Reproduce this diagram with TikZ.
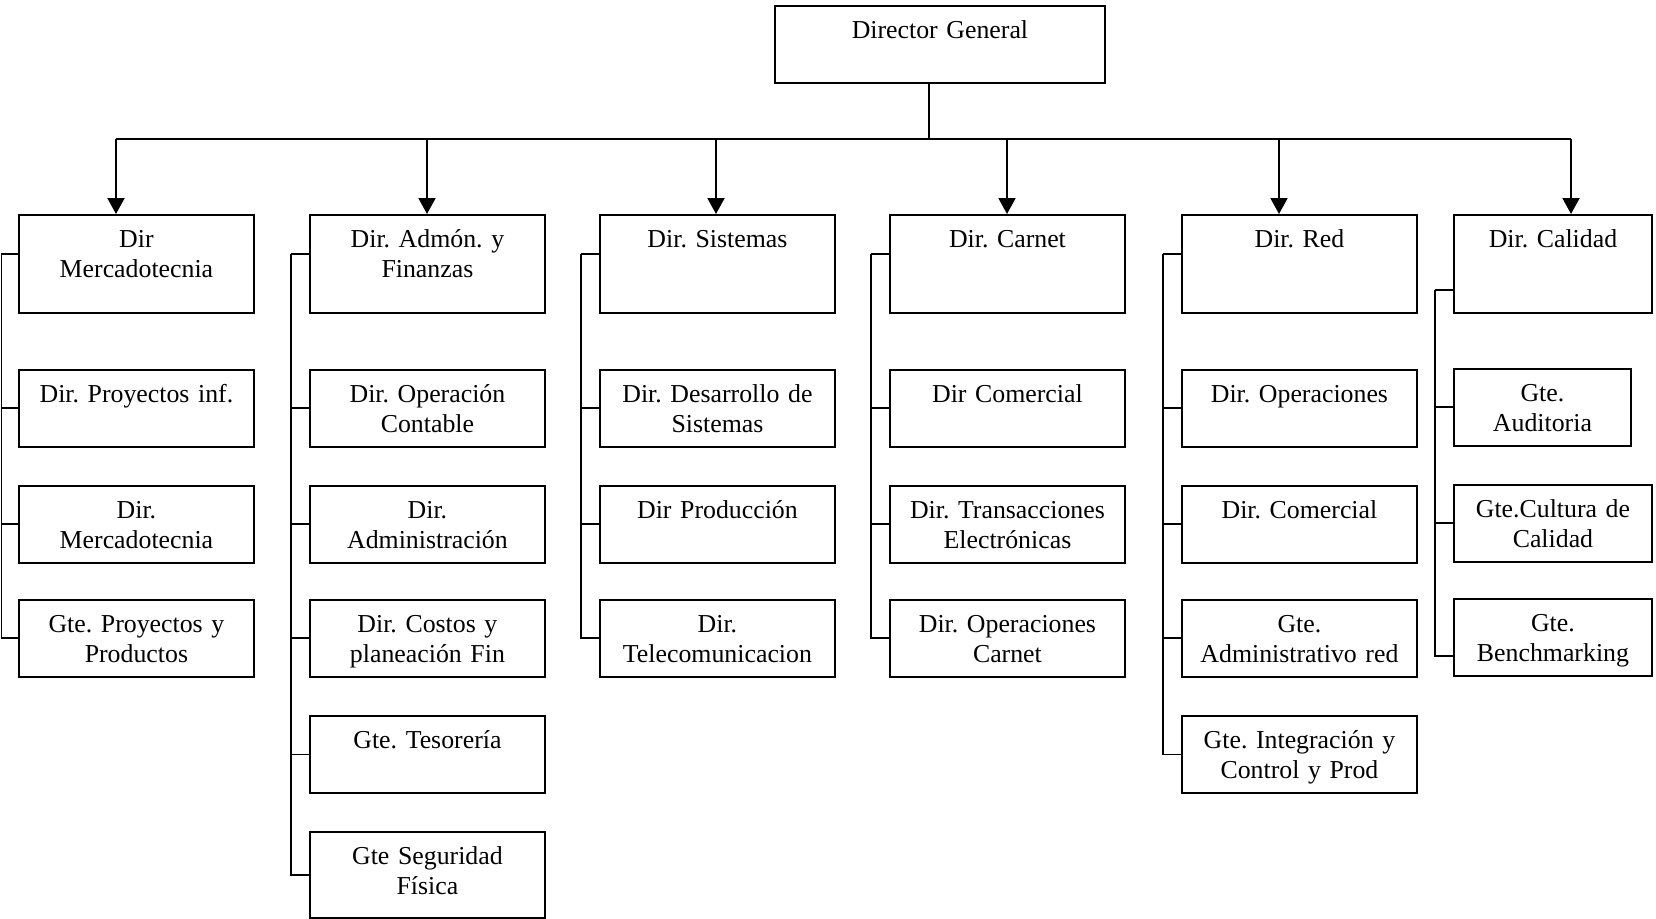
\documentclass[tikz,border=0pt]{standalone}
\usepackage{fontspec}
\setmainfont{Liberation Serif}
\usetikzlibrary{arrows.meta}

\tikzset{
  box/.style={draw, inner sep=0pt, anchor=north west, align=center,
    text width=4.7cm, text height=0.66cm, text depth=0.88cm,
    font=\fontsize{14.7}{16.8}\selectfont\frenchspacing},
  head/.style={box, text depth=1.3cm},
  low/.style={box, text depth=1.06cm},
  down/.style={-{Triangle[length=0.32cm,width=0.34cm]}}
}

\begin{document}
\begin{tikzpicture}[x=0.02cm,y=-0.02cm,line width=1.1pt]
\useasboundingbox (0,0) rectangle (1656,919);

\node[box,text width=6.6cm] (dg) at (774,5) {Director General};

\node[head] (m0) at (18,214) {Dir\\Mercadotecnia};
\node[box] (m1) at (18,369) {Dir. Proyectos inf.};
\node[box] (m2) at (18,485) {Dir.\\Mercadotecnia};
\node[box] (m3) at (18,599) {Gte. Proyectos y\\Productos};

\node[head] (f0) at (309,214) {Dir. Admón. y\\Finanzas};
\node[box] (f1) at (309,369) {Dir. Operación\\Contable};
\node[box] (f2) at (309,485) {Dir.\\Administración};
\node[box] (f3) at (309,599) {Dir. Costos y\\planeación Fin};
\node[box] (f4) at (309,715) {Gte. Tesorería};
\node[low] (f5) at (309,831) {Gte Seguridad\\Física};

\node[head] (s0) at (599,214) {Dir. Sistemas};
\node[box] (s1) at (599,369) {Dir. Desarrollo de\\Sistemas};
\node[box] (s2) at (599,485) {Dir Producción};
\node[box] (s3) at (599,599) {Dir.\\Telecomunicacion};

\node[head] (c0) at (889,214) {Dir. Carnet};
\node[box] (c1) at (889,369) {Dir Comercial};
\node[box] (c2) at (889,485) {Dir. Transacciones\\Electrónicas};
\node[box] (c3) at (889,599) {Dir. Operaciones\\Carnet};

\node[head] (r0) at (1181,214) {Dir. Red};
\node[box] (r1) at (1181,369) {Dir. Operaciones};
\node[box] (r2) at (1181,485) {Dir. Comercial};
\node[box] (r3) at (1181,599) {Gte.\\Administrativo red};
\node[box] (r4) at (1181,715) {Gte. Integración y\\Control y Prod};

\node[head,text width=3.96cm] (q0) at (1453,214) {Dir. Calidad};
\node[box,text width=3.54cm] (q1) at (1453,368) {Gte.\\Auditoria};
\node[box,text width=3.96cm] (q2) at (1453,484) {Gte.Cultura de\\Calidad};
\node[box,text width=3.96cm] (q3) at (1453,598) {Gte.\\Benchmarking};

\coordinate (j) at (929,139);
\draw (dg.south -| j) -- (j);
\foreach \n/\x in {m0/116,f0/427,s0/716,c0/1007,r0/1279,q0/1571}{
  \coordinate (t\n) at (\x,139);
  \draw[down] (t\n) -- (t\n |- \n.north);
}
\draw (tm0) -- (tq0);

\foreach \n/\x/\y/\last in {m/1.5/254/3,f/291/254/5,s/581/254/3,c/871/254/3,r/1163/254/4,q/1435/290/2}{
  \coordinate (sp\n) at (\x,\y);
  \draw (sp\n) -- (sp\n -| \n0.west);
  \foreach \k in {1,...,\last}
    \draw (sp\n) |- (\n\k.west);
}
\draw (spq) |- ([yshift=-0.37cm]q3.west);
\end{tikzpicture}
\end{document}
